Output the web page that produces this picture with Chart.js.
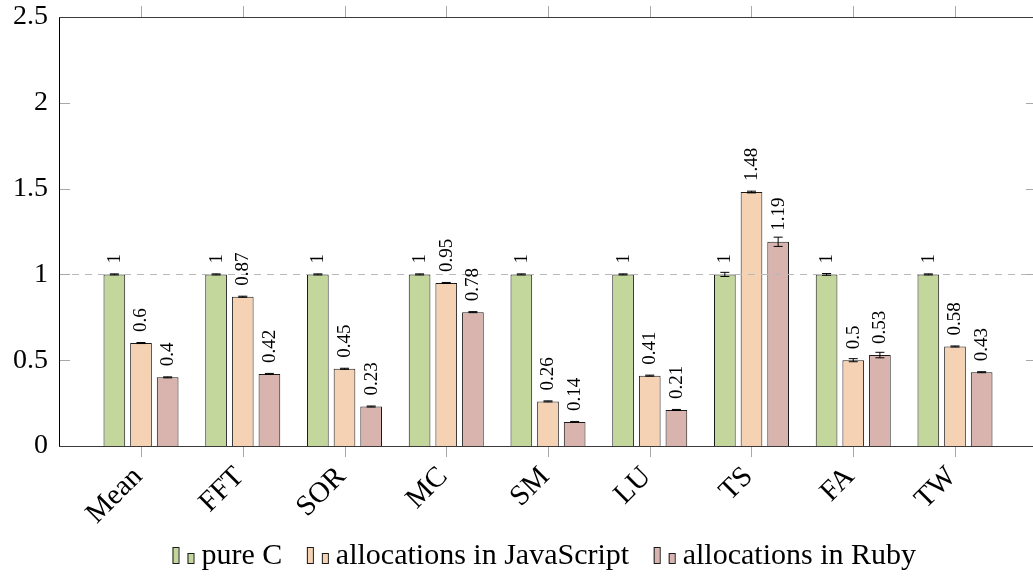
<!DOCTYPE html>
<html>
<head>
<meta charset="utf-8">
<script src="https://cdn.jsdelivr.net/npm/chart.js@4.4.1/dist/chart.umd.min.js"></script>
<style>
  html, body { margin: 0; padding: 0; background: #fff; overflow: hidden; width: 1033px; height: 580px; }
  #wrap { width: 1040px; height: 580px; }
</style>
</head>
<body>
<div id="wrap"><canvas id="c" width="1040" height="580"></canvas></div>
<script>
// Benchmarks and normalised run times (pure C = 1)
const categories = ['Mean', 'FFT', 'SOR', 'MC', 'SM', 'LU', 'TS', 'FA', 'TW'];
const seriesNames = ['pure C', 'allocations in JavaScript', 'allocations in Ruby'];
const pureC     = [1, 1, 1, 1, 1, 1, 1, 1, 1];
const allocJS   = [0.6, 0.87, 0.45, 0.95, 0.26, 0.41, 1.48, 0.5, 0.58];
const allocRuby = [0.4, 0.42, 0.23, 0.78, 0.14, 0.21, 1.19, 0.53, 0.43];
// Error bar half-widths
const errPureC   = [0.003, 0.003, 0.003, 0.003, 0.003, 0.003, 0.012, 0.005, 0.003];
const errJS      = [0.003, 0.003, 0.003, 0.003, 0.003, 0.003, 0.005, 0.009, 0.003];
const errRuby    = [0.003, 0.003, 0.003, 0.003, 0.003, 0.003, 0.027, 0.016, 0.003];
const yTicks = [0, 0.5, 1, 1.5, 2, 2.5];
const referenceLevel = 1;

const serif = "'Liberation Serif', 'Times New Roman', serif";
const fills = ['#c3d69b', '#f5d2b3', '#d9b3ad'];
const seriesValues = [pureC, allocJS, allocRuby];
const seriesErrors = [errPureC, errJS, errRuby];

const datasets = seriesValues.map((vals, k) => ({
  label: seriesNames[k],
  data: vals.map((v, i) => ({ x: i, y: v })),
  errors: seriesErrors[k],
  backgroundColor: fills[k],
  borderColor: '#1a1a1a',
  borderWidth: 1,
  categoryPercentage: 0.786,
  barPercentage: 0.813
}));

// keep the plot frame exactly where the layout puts it
function noOverhang(s) {
  s.paddingTop = 0; s.paddingBottom = 0; s.paddingLeft = 0; s.paddingRight = 0;
}

const decorations = {
  id: 'decorations',
  afterDatasetsDraw(chart) {
    const { ctx, chartArea: a, scales: { y } } = chart;
    ctx.save();
    // dashed reference line at 1
    const yr = Math.round(y.getPixelForValue(referenceLevel)) + 0.5;
    ctx.strokeStyle = '#b8b8b8';
    ctx.lineWidth = 1;
    ctx.setLineDash([7, 6]);
    ctx.beginPath();
    ctx.moveTo(a.left, yr);
    ctx.lineTo(a.right, yr);
    ctx.stroke();
    ctx.setLineDash([]);

    chart.data.datasets.forEach((ds, k) => {
      const meta = chart.getDatasetMeta(k);
      meta.data.forEach((bar, i) => {
        const v = ds.data[i].y;
        const e = ds.errors[i];
        const yt = y.getPixelForValue(v + e);
        const yb = y.getPixelForValue(v - e);
        // error bar
        ctx.strokeStyle = '#000';
        ctx.lineWidth = 1;
        ctx.beginPath();
        ctx.moveTo(bar.x, yt); ctx.lineTo(bar.x, yb);
        ctx.moveTo(bar.x - 4.5, yt); ctx.lineTo(bar.x + 4.5, yt);
        ctx.moveTo(bar.x - 4.5, yb); ctx.lineTo(bar.x + 4.5, yb);
        ctx.stroke();
        // value label
        ctx.save();
        ctx.translate(bar.x + 0.5, bar.y - 11);
        ctx.rotate(-Math.PI / 2);
        ctx.fillStyle = '#000';
        ctx.font = '19px ' + serif;
        ctx.textAlign = 'left';
        ctx.textBaseline = 'middle';
        ctx.fillText(String(v), 0, 0);
        ctx.restore();
      });
    });
    ctx.restore();
  },
  afterDraw(chart) {
    const { ctx, chartArea: a, scales: { x, y } } = chart;
    ctx.save();
    // tick marks
    ctx.strokeStyle = '#a8a8a8';
    ctx.lineWidth = 1;
    ctx.beginPath();
    yTicks.forEach(t => {
      const py = Math.round(y.getPixelForValue(t)) + 0.5;
      ctx.moveTo(a.left, py); ctx.lineTo(a.left + 11, py);
      ctx.moveTo(a.right, py); ctx.lineTo(a.right - 11, py);
    });
    categories.forEach((_, i) => {
      const px = Math.round(x.getPixelForValue(i)) + 0.5;
      ctx.moveTo(px, a.top); ctx.lineTo(px, a.top - 11);
      ctx.moveTo(px, a.bottom); ctx.lineTo(px, a.bottom + 11);
    });
    ctx.stroke();
    // axis frame
    const l = a.left + 0.5, r = a.right - 0.5, t = a.top + 0.5, b = a.bottom + 0.5;
    ctx.strokeStyle = '#3a3a3a';
    ctx.beginPath();
    ctx.moveTo(l, t); ctx.lineTo(r, t);
    ctx.moveTo(l, b); ctx.lineTo(r, b);
    ctx.moveTo(r, t); ctx.lineTo(r, b);
    ctx.stroke();
    ctx.strokeStyle = '#000';
    ctx.beginPath();
    ctx.moveTo(l, t); ctx.lineTo(l, b);
    ctx.stroke();

    // legend, spread between the first icon and the end of the last label
    ctx.font = '30px ' + serif;
    ctx.textBaseline = 'alphabetic';
    ctx.textAlign = 'left';
    const iconW = 29, base = 564, startX = 172.5, endX = 916;
    const widths = seriesNames.map(n => ctx.measureText(n).width);
    const used = widths.reduce((s, w) => s + w + iconW, 0);
    const gap = (endX - startX - used) / (seriesNames.length - 1);
    let x0 = startX;
    seriesNames.forEach((n, k) => {
      ctx.fillStyle = fills[k];
      ctx.strokeStyle = '#1a1a1a';
      ctx.fillRect(x0, base - 17, 6, 16);
      ctx.strokeRect(x0 + 0.5, base - 16.5, 6, 16);
      ctx.fillRect(x0 + 15, base - 11, 6, 10);
      ctx.strokeRect(x0 + 15.5, base - 10.5, 6, 10);
      ctx.fillStyle = '#000';
      ctx.fillText(n, x0 + iconW, base);
      x0 += iconW + widths[k] + gap;
    });
    ctx.restore();
  }
};

new Chart(document.getElementById('c'), {
  type: 'bar',
  data: { datasets },
  options: {
    responsive: false,
    animation: false,
    devicePixelRatio: 1,
    layout: { padding: { top: 17, right: 3, left: 0, bottom: 0 } },
    plugins: { legend: { display: false }, tooltip: { enabled: false } },
    scales: {
      x: {
        type: 'linear',
        min: -0.806,
        max: 8.806,
        offset: false,
        afterBuildTicks: s => { s.ticks = categories.map((_, i) => ({ value: i })); },
        afterFit: s => { s.height = 134; noOverhang(s); },
        ticks: {
          callback: v => categories[v],
          autoSkip: false,
          minRotation: 45,
          maxRotation: 45,
          padding: 14,
          labelOffset: -3,
          color: '#000',
          font: { family: serif, size: 29 }
        },
        grid: { display: false, drawTicks: false },
        border: { display: false }
      },
      y: {
        min: 0,
        max: 2.5,
        afterBuildTicks: s => { s.ticks = yTicks.map(v => ({ value: v })); },
        afterFit: s => { s.width = 59; noOverhang(s); },
        ticks: {
          callback: v => String(v),
          padding: 11,
          color: '#000',
          font: { family: serif, size: 28 }
        },
        grid: { display: false, drawTicks: false },
        border: { display: false }
      }
    }
  },
  plugins: [decorations]
});
</script>
</body>
</html>
